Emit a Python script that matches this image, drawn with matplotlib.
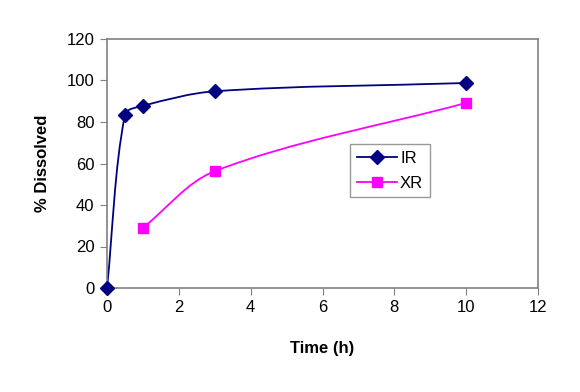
import numpy as np
import matplotlib.pyplot as plt
from matplotlib.path import Path
from matplotlib.patches import PathPatch

plt.rcParams['font.family'] = ['Liberation Sans', 'DejaVu Sans']

# Datos
ir_time = [0, 0.5, 1, 3, 10]
ir_diss = [0, 83.5, 87.8, 94.8, 98.8]
xr_time = [1, 3, 10]
xr_diss = [29, 56.3, 89.2]

navy = '#000080'
magenta = '#FF00FF'


def smooth_path(x, y, ysc=2.08 / 35.9):
    # Bezier suavizada, tangentes escaladas por longitud de cuerda
    pts = np.column_stack([x, y]).astype(float)
    sc = np.array([1.0, ysc])
    n = len(pts)

    def L(a, b):
        return np.linalg.norm((pts[b] - pts[a]) * sc)

    verts = [pts[0]]
    codes = [Path.MOVETO]
    for i in range(n - 1):
        p1, p2 = pts[i], pts[i + 1]
        l12 = L(i, i + 1)
        if i > 0:
            c1 = p1 + (p2 - pts[i - 1]) * l12 / (3 * (L(i - 1, i) + l12))
        else:
            c1 = p1 + (p2 - p1) / 3
        if i + 2 < n:
            c2 = p2 - (pts[i + 2] - p1) * l12 / (3 * (l12 + L(i + 1, i + 2)))
        else:
            c2 = p2 - (p2 - p1) / 3
        verts += [c1, c2, p2]
        codes += [Path.CURVE4] * 3
    return Path(verts, codes)


fig = plt.figure(figsize=(5.8, 3.92), dpi=100)
ax = fig.add_axes([107 / 580, 1 - 288 / 392, (538 - 107) / 580, (288 - 39) / 392])

ax.add_patch(PathPatch(smooth_path(ir_time, ir_diss), fill=False, color=navy, lw=1.3))
ax.add_patch(PathPatch(smooth_path(xr_time, xr_diss), fill=False, color=magenta, lw=1.3))
ax.plot(ir_time, ir_diss, color=navy, marker='D', ms=7, ls='None', clip_on=False, zorder=5)
ax.plot(xr_time, xr_diss, color=magenta, marker='s', ms=7, ls='None', clip_on=False, zorder=5)
h1 = plt.Line2D([], [], color=navy, marker='D', ms=7, lw=1.3)
h2 = plt.Line2D([], [], color=magenta, marker='s', ms=7, lw=1.3)

ax.set_xlim(0, 12)
ax.set_ylim(0, 120)
ax.set_xticks(range(0, 13, 2))
ax.set_yticks(range(0, 121, 20))
ax.tick_params(direction='out', length=5, color='#808080', labelsize=12, pad=4)
for s in ax.spines.values():
    s.set_color('#808080')
    s.set_linewidth(1.2)

ax.set_xlabel('Time (h)', fontsize=12, fontweight='bold', labelpad=18)
ax.set_ylabel('% Dissolved', fontsize=12, fontweight='bold', labelpad=12)

leg = fig.legend([h1, h2], ['IR', 'XR'], loc='upper left',
                 bbox_to_anchor=(350 / 580, 1 - 144 / 392),
                 fontsize=12, fancybox=False, frameon=True, edgecolor='#808080',
                 handlelength=2.4, borderpad=0.4, labelspacing=0.6,
                 handletextpad=0.2, borderaxespad=0)
leg.get_frame().set_linewidth(1.0)

fig.savefig('out.png', dpi=100)
